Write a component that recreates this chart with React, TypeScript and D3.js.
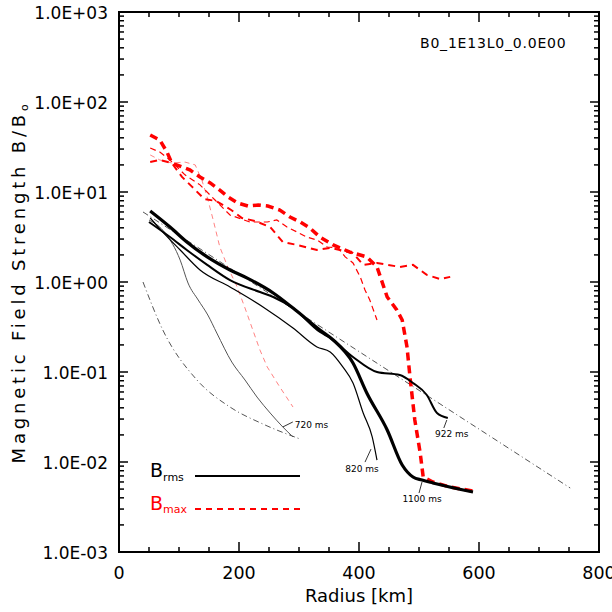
import React from 'react';
import * as d3 from 'd3';

// ---- data: [radius km, B/B0] ----
const rms720: [number, number][] = [
  [50, 4.89], [77, 3.5], [102, 1.75], [115, 0.975], [132, 0.631], [148, 0.43], [163, 0.271],
  [188, 0.129], [210, 0.0815], [230, 0.0527], [252, 0.035], [273, 0.0245], [290, 0.019],
];
const rms820: [number, number][] = [
  [52, 5.14], [73, 3.59], [102, 2.27], [135, 1.36], [185, 0.88], [240, 0.528], [290, 0.308],
  [330, 0.19], [352, 0.167], [373, 0.114], [390, 0.0755], [407, 0.035], [422, 0.019], [430, 0.0105],
];
const rms922: [number, number][] = [
  [50, 4.64], [85, 3.16], [113, 2.27], [147, 1.55], [185, 1.05], [235, 0.774], [257, 0.681],
  [290, 0.514], [335, 0.278], [352, 0.239], [390, 0.147], [430, 0.1], [468, 0.0926], [490, 0.0755],
  [513, 0.0555], [530, 0.035], [548, 0.0308],
];
const rms1100: [number, number][] = [
  [52, 6.15], [85, 4.08], [113, 2.78], [147, 1.9], [185, 1.36], [213, 1.11], [257, 0.755],
  [290, 0.514], [335, 0.293], [357, 0.227], [390, 0.126], [413, 0.0585], [447, 0.0227],
  [472, 0.00926], [490, 0.00681], [505, 0.0063], [523, 0.00585], [590, 0.00464],
];
const max720: [number, number][] = [
  [52, 25.8], [68, 22.7], [88, 21.0], [110, 21.5], [127, 20.0], [138, 13.6], [147, 8.8], [157, 4.89],
  [168, 2.45], [182, 1.43], [197, 0.88], [210, 0.514], [223, 0.293], [235, 0.175], [247, 0.114],
  [268, 0.0681], [290, 0.0408],
];
const max820: [number, number][] = [
  [52, 30.8], [68, 27.8], [85, 22.7], [110, 15.5], [135, 12.0], [160, 8.15], [185, 5.55], [218, 4.64],
  [247, 4.64], [263, 4.89], [280, 4.08], [297, 3.59], [313, 3.16], [330, 2.93], [347, 2.45],
  [365, 2.39], [377, 1.9], [390, 1.63], [402, 1.14], [410, 0.815], [418, 0.631], [430, 0.378],
];
const max922: [number, number][] = [
  [52, 21.5], [68, 22.7], [88, 21.0], [105, 14.7], [122, 11.4], [142, 8.36], [162, 7.94], [187, 6.31],
  [205, 5.14], [227, 4.76], [252, 4.08], [273, 2.78], [297, 2.58], [330, 2.27], [352, 2.39],
  [368, 2.27], [390, 2.1], [407, 1.55], [430, 1.63], [468, 1.47], [490, 1.55], [513, 1.2],
  [535, 1.08], [552, 1.14],
];
const max1100: [number, number][] = [
  [52, 43.0], [68, 37.8], [80, 27.8], [88, 21.0], [118, 17.6], [135, 14.7], [152, 12.6], [168, 10.5],
  [182, 8.8], [198, 7.55], [215, 6.99], [232, 7.17], [248, 6.99], [268, 6.31], [285, 5.27],
  [302, 4.64], [318, 3.98], [335, 3.16], [357, 2.58], [385, 2.15], [413, 1.9], [430, 1.47],
  [447, 0.681], [463, 0.489], [472, 0.378], [480, 0.19], [485, 0.088], [493, 0.0293], [502, 0.0126],
  [507, 0.00681], [523, 0.00599], [552, 0.00527], [590, 0.00476],
];
const refStraight: [number, number][] = [[40, 6.0], [752, 0.00514]];
const refCurve: [number, number][] = [
  [40, 1.0], [73, 0.293], [130, 0.0814], [185, 0.0408], [240, 0.0264], [302, 0.018],
];
const timeLabels = ['720 ms', '820 ms', '922 ms', '1100 ms'];
const xTicks = [0, 200, 400, 600, 800];
const yDecades = [-3, -2, -1, 0, 1, 2, 3];
const runLabel = 'B0_1E13L0_0.0E00';

export default function App() {
  const FONT = 'DejaVu Sans, sans-serif';
  const x = d3.scaleLinear().domain([0, 800]).range([119, 599]);
  const y = d3.scaleLog().domain([1e-3, 1e3]).range([552, 12]);
  const lineLin = d3.line<[number, number]>().x(d => x(d[0])).y(d => y(d[1]));
  const lineSmooth = d3.line<[number, number]>().x(d => x(d[0])).y(d => y(d[1])).curve(d3.curveMonotoneX);

  const x0 = 119;
  const x1 = 599;
  const y0 = 552;
  const y1 = 12;
  const minorX = d3.range(0, 801, 50).filter(v => v % 200 !== 0);
  const minorY: number[] = [];
  for (let e = -3; e < 3; e++) for (let m = 2; m <= 9; m++) minorY.push(m * Math.pow(10, e));
  const fmt = (e: number) => `1.0E${e < 0 ? '-' : '+'}${String(Math.abs(e)).padStart(2, '0')}`;

  const blackSeries = [
    { d: rms720, stroke: '#555', w: 1 },
    { d: rms820, stroke: '#000', w: 1.2 },
    { d: rms922, stroke: '#000', w: 2 },
    { d: rms1100, stroke: '#000', w: 3.2 },
  ];
  const redSeries = [
    { d: max720, w: 0.9, dash: '5,4', op: 0.55 },
    { d: max820, w: 1.2, dash: '6,4', op: 1 },
    { d: max922, w: 2, dash: '7,5', op: 1 },
    { d: max1100, w: 3.5, dash: '8,5', op: 1 },
  ];

  const anchors = [rms720[11], rms820[rms820.length - 1], rms922[rms922.length - 1], rms1100[15]];
  const leader = [
    { a: [0, 0], b: [10, -5], t: [12, 1], anchor: 'start' },
    { a: [-6, -11], b: [-12, 2], t: [-15, 12], anchor: 'middle' },
    { a: [-1, 2], b: [-4, 10], t: [4, 19], anchor: 'middle' },
    { a: [0, 2], b: [-3, 13], t: [0, 22], anchor: 'middle' },
  ];

  return (
    <svg width={612} height={612} style={{ position: 'absolute', left: 0, top: 0, background: '#fff' }}
      fontFamily={FONT}>
      <rect x={0} y={0} width={612} height={612} fill="#fff" />
      <path d={lineLin(refStraight) || ''} fill="none" stroke="#555" strokeWidth={1} strokeDasharray="6,3,1,3" />
      <path d={lineSmooth(refCurve) || ''} fill="none" stroke="#555" strokeWidth={1} strokeDasharray="6,3,1,3" />
      {redSeries.map((s, i) => (
        <path key={'r' + i} d={lineLin(s.d) || ''} fill="none" stroke="#ff0000" strokeOpacity={s.op}
          strokeWidth={s.w} strokeDasharray={s.dash} />
      ))}
      {blackSeries.map((s, i) => (
        <path key={'b' + i} d={lineSmooth(s.d) || ''} fill="none" stroke={s.stroke} strokeWidth={s.w}
          strokeLinejoin="round" />
      ))}
      {anchors.map((p, i) => {
        const px = x(p[0]);
        const py = y(p[1]);
        const L = leader[i];
        return (
          <g key={'a' + i}>
            <line x1={px + L.a[0]} y1={py + L.a[1]} x2={px + L.b[0]} y2={py + L.b[1]} stroke="#000" strokeWidth={0.8} />
            <text x={px + L.t[0]} y={py + L.t[1]} fontSize={9} textAnchor={L.anchor as any}>{timeLabels[i]}</text>
          </g>
        );
      })}
      <rect x={x0} y={y1} width={x1 - x0} height={y0 - y1} stroke="#000" strokeWidth={2} fill="none" />
      <g stroke="#000" strokeWidth={1.5}>
        {xTicks.map(v => (
          <g key={'xt' + v}>
            <line x1={x(v)} x2={x(v)} y1={y0} y2={y0 - 10} />
            <line x1={x(v)} x2={x(v)} y1={y1} y2={y1 + 10} />
          </g>
        ))}
        {minorX.map(v => (
          <g key={'xm' + v}>
            <line x1={x(v)} x2={x(v)} y1={y0} y2={y0 - 5} />
            <line x1={x(v)} x2={x(v)} y1={y1} y2={y1 + 5} />
          </g>
        ))}
        {yDecades.map(e => (
          <g key={'yt' + e}>
            <line x1={x0} x2={x0 + 9} y1={y(Math.pow(10, e))} y2={y(Math.pow(10, e))} />
            <line x1={x1} x2={x1 - 9} y1={y(Math.pow(10, e))} y2={y(Math.pow(10, e))} />
          </g>
        ))}
        {minorY.map((v, i) => (
          <g key={'ym' + i}>
            <line x1={x0} x2={x0 + 5} y1={y(v)} y2={y(v)} />
            <line x1={x1} x2={x1 - 5} y1={y(v)} y2={y(v)} />
          </g>
        ))}
      </g>
      {xTicks.map(v => (
        <text key={'xl' + v} x={x(v)} y={579} fontSize={17.5} textAnchor="middle">{v}</text>
      ))}
      {yDecades.map(e => (
        <text key={'yl' + e} x={108} y={y(Math.pow(10, e)) + 7} fontSize={17} textAnchor="end">{fmt(e)}</text>
      ))}
      <text x={(x0 + x1) / 2} y={602} fontSize={18} textAnchor="middle">Radius [km]</text>
      <text transform={`translate(25,${(y0 + y1) / 2}) rotate(-90)`} fontSize={18} textAnchor="middle" letterSpacing={3.8}>
        Magnetic Field Strength B/B<tspan fontSize={11} dy={3}>o</tspan>
      </text>
      <text x={420} y={48} fontSize={14} letterSpacing={0.8}>{runLabel}</text>
      <text x={150} y={477} fontSize={19}>B<tspan fontSize={11} dy={4}>rms</tspan></text>
      <line x1={195} x2={300} y1={476} y2={476} stroke="#000" strokeWidth={2} />
      <text x={150} y={510} fontSize={19} fill="#ff0000">B<tspan fontSize={11} dy={3}>max</tspan></text>
      <line x1={195} x2={300} y1={509} y2={509} stroke="#ff0000" strokeWidth={2} strokeDasharray="6,5" />
    </svg>
  );
}
